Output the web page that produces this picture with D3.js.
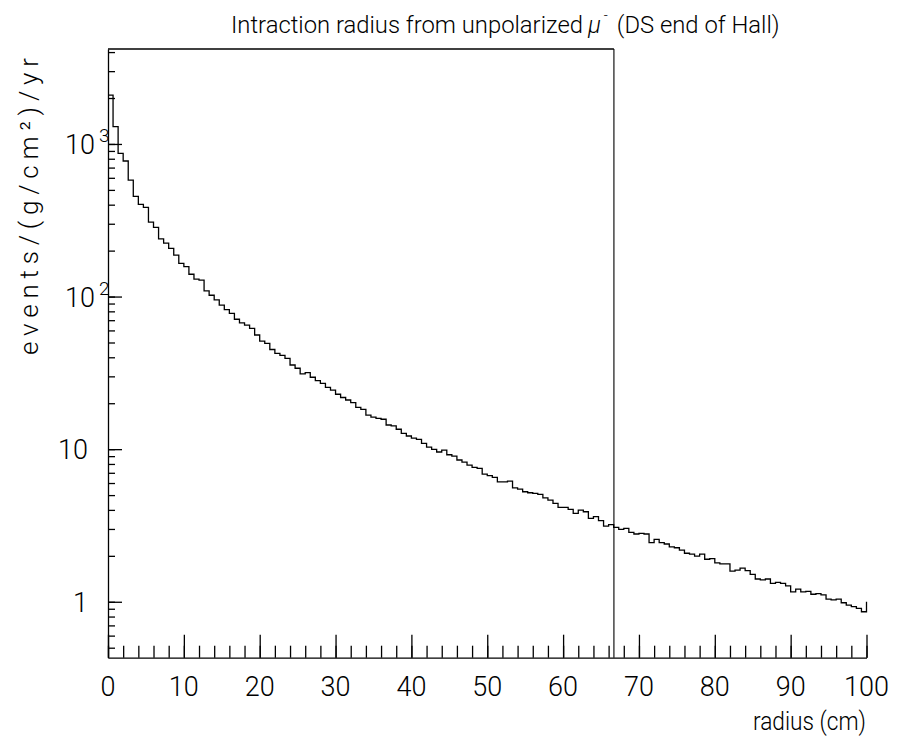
<!DOCTYPE html>
<html><head><meta charset="utf-8">
<script src="https://cdn.jsdelivr.net/npm/d3@7"></script>
<style>
body{margin:0;background:#fff}
text{font-family:Roboto,"DejaVu Sans",sans-serif;font-weight:300;fill:#000}
</style>
</head><body><svg id="c" width="899" height="747"></svg>
<script>
// ---- data ----
const nBins = 150, xMin = 0, xMax = 100;
const counts = [
 2090,1297,868,773,579,454,402,384,307,284,
 239,224,207,187,165,157,140,130,128,109,
 102,95,88,82,77.6,71,67.3,65,61.9,56,
 51.1,49.3,45,42.4,41.2,39.4,35.6,33.9,31.1,31.7,
 29.6,28.1,27.0,25.4,24.4,22.9,21.8,21.0,20.2,18.8,
 18.2,16.7,16.2,15.9,15.7,14.4,14.2,13.5,12.7,12.2,
 11.8,11.6,10.9,10.3,9.97,9.58,9.86,9.19,9.01,8.49,
 8.23,7.87,7.6,7.48,6.87,6.7,6.53,6.11,6.11,6.18,
 5.58,5.47,5.26,5.18,5.13,5.05,4.80,4.64,4.41,4.16,
 4.16,4.03,3.79,3.99,3.89,3.52,3.61,3.40,3.13,3.20,
 3.07,2.98,3.03,2.85,2.78,2.81,2.78,2.44,2.56,2.44,
 2.39,2.29,2.26,2.18,2.08,2.05,1.99,2.05,1.90,1.92,
 1.80,1.77,1.77,1.59,1.61,1.66,1.60,1.51,1.41,1.39,
 1.41,1.32,1.34,1.32,1.27,1.16,1.21,1.16,1.17,1.12,
 1.13,1.11,1.04,1.03,1.04,0.985,0.95,0.93,0.905,0.86
];
const lastEdgeValue = 1.0;
const xMajorTicks = [0,10,20,30,40,50,60,70,80,90,100];
const xTickLabels = ["0","10","20","30","40","50","60","70","80","90","100"];
const yMajorTicks = [1,10,100,1000];
const yTickBase = ["1","10","10","10"];
const yTickExp  = ["","","2","3"];
const yDomain = [0.43, 4190];
const frameRight = 66.7;
const titleMain = "Intraction radius from unpolarized";
const titleMu = "\u03BC";
const titleSup = "-";
const titleEnd = "(DS end of Hall)";
const xLabel = "radius (cm)";
const yLabel = "events/(g/cm\u00B2)/yr";

// ---- drawing ----
const svg = d3.select("#c");
const x = d3.scaleLinear().domain([xMin, xMax]).range([108, 866.5]);
const y = d3.scaleLog().domain(yDomain).range([657.7, 49]);
const binW = (xMax - xMin) / nBins;

const ink = "#000";
// frame top and right line
svg.append("line").attr("x1", x(0)).attr("x2", x(frameRight)).attr("y1", y.range()[1]).attr("y2", y.range()[1])
  .attr("stroke", ink).attr("stroke-width", 1.3);
svg.append("line").attr("x1", x(frameRight)).attr("x2", x(frameRight)).attr("y1", y.range()[1]).attr("y2", y.range()[0])
  .attr("stroke", ink).attr("stroke-width", 1.1);

// x axis
const xMinor = d3.range(xMin, xMax + 0.001, 2);
const gx = svg.append("g").attr("transform", `translate(0,${y.range()[0]})`);
gx.call(d3.axisBottom(x).tickValues(xMinor).tickSize(-12).tickSizeOuter(0).tickFormat(""));
const gx2 = svg.append("g").attr("transform", `translate(0,${y.range()[0]})`);
gx2.call(d3.axisBottom(x).tickValues(xMajorTicks).tickSize(-23).tickSizeOuter(0).tickFormat(""));
gx2.select(".domain").remove();

svg.append("g").selectAll("text").data(xMajorTicks).join("text")
  .attr("x", d => x(d)).attr("y", 696).attr("text-anchor", "middle")
  .style("font-size", "27px").text((d, i) => xTickLabels[i]);

// y axis
const gy = svg.append("g").attr("transform", `translate(${x(0)},0)`);
gy.call(d3.axisLeft(y).tickValues(y.ticks()).tickSize(-7).tickSizeOuter(0).tickFormat(""));
const gy2 = svg.append("g").attr("transform", `translate(${x(0)},0)`);
gy2.call(d3.axisLeft(y).tickValues(yMajorTicks).tickSize(-14).tickSizeOuter(0).tickFormat(""));
gy2.select(".domain").remove();
svg.selectAll("g .tick line, g .domain").attr("stroke", ink).attr("stroke-width", 1.3);

yMajorTicks.forEach((v, i) => {
  const t = svg.append("text").attr("y", y(v) + 10).style("font-size", "27px");
  if (yTickExp[i]) {
    t.attr("x", 65).attr("text-anchor", "start");
    t.append("tspan").text(yTickBase[i]);
    t.append("tspan").attr("dy", -12).attr("dx", 4).style("font-size", "19px").text(yTickExp[i]);
  } else {
    t.attr("x", 88).attr("text-anchor", "end").text(yTickBase[i]);
  }
});

// histogram step line
let p = `M${x(xMin)},${y(counts[0])}`;
counts.forEach((c, i) => {
  p += `H${x(xMin + (i + 1) * binW)}`;
  if (i + 1 < counts.length) p += `V${y(counts[i + 1])}`;
});
p += `V${y(lastEdgeValue)}`;
svg.append("path").attr("d", p).attr("fill", "none").attr("stroke", ink).attr("stroke-width", 1.3);

// title (separate pieces, sized by measurement)
const f0 = 25;
const tA = svg.append("text").attr("x", 231).attr("y", 33).style("font-size", f0 + "px").text(titleMain);
const tE = svg.append("text").attr("y", 33).style("font-size", f0 + "px").text(titleEnd);
const wA0 = tA.node().getComputedTextLength(), wE0 = tE.node().getComputedTextLength();
const f = f0 * (322 + 193) / (wA0 + wE0);
tA.style("font-size", f + "px");
tE.style("font-size", f + "px");
const wA = tA.node().getComputedTextLength();
const muX = 231 + wA + 5;
const tM = svg.append("text").attr("x", muX).attr("y", 33).style("font-size", f + "px")
  .style("font-style", "italic").text(titleMu);
const supX = muX + tM.node().getComputedTextLength() + 3;
const tS = svg.append("text").attr("x", supX).attr("y", 20).style("font-size", "14px").text(titleSup);
const endX = supX + tS.node().getComputedTextLength() + 9;
tE.attr("x", endX);

// x label
svg.append("text").attr("x", 753).attr("y", 730).style("font-size", "25px")
  .attr("textLength", 113).attr("lengthAdjust", "spacingAndGlyphs").text(xLabel);

// y label
svg.append("text").attr("transform", "translate(38,355) rotate(-90)")
  .style("font-size", "26px").attr("textLength", 297).attr("lengthAdjust", "spacing").text(yLabel);
</script>
</body></html>
